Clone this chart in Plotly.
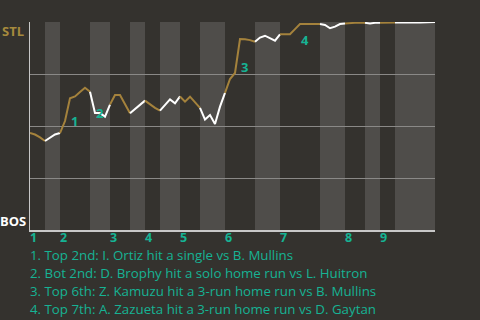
import plotly.graph_objects as go

# STL win probability (0..1) after each play, play index 0..81
stl_wp = [
    0.466, 0.459, 0.445, 0.428,            # top 1 (0-3)
    0.442, 0.459, 0.466,                   # bot 1 (4-6)
    0.524, 0.633, 0.642, 0.663, 0.684, 0.665,  # top 2 (7-12)
    0.562, 0.562, 0.545, 0.603,            # bot 2 (13-16)
    0.649, 0.649, 0.606, 0.561,            # top 3 (17-20)
    0.582, 0.601, 0.622,                   # bot 3 (21-23)
    0.603, 0.587, 0.574,                   # top 4 (24-26)
    0.601, 0.628, 0.609, 0.642,            # bot 4 (27-30)
    0.617, 0.641, 0.615, 0.587,            # top 5 (31-34)
    0.531, 0.553, 0.510, 0.593, 0.659,     # bot 5 (35-39)
    0.726, 0.755, 0.918, 0.917, 0.913, 0.905,  # top 6 (40-45)
    0.925, 0.934, 0.922, 0.910, 0.941,     # bot 6 (46-50)
    0.942, 0.941, 0.966, 0.990, 0.990, 0.990, 0.990, 0.990,  # top 7 (51-58)
    0.986, 0.970, 0.978, 0.990, 0.993,     # bot 7 (59-63)
    0.996, 0.996, 0.996, 0.996,            # top 8 (64-67)
    0.993, 0.996, 0.996,                   # bot 8 (68-70)
    0.997, 0.997, 0.997,                   # top 9 (71-73)
    0.998, 0.998, 0.998, 0.998, 0.998, 0.998, 0.998, 1.0,  # bot 9 (74-81)
]

# play index where each half-inning ends (start of next)
half_ends = [3, 6, 12, 16, 20, 23, 26, 30, 34, 39, 45, 50, 58, 63, 67, 70, 73, 81]
inning_labels = ["1", "2", "3", "4", "5", "6", "7", "8", "9"]

# key events: (play index before, play index after)
event_spans = [(7, 8), (12, 13), (41, 42), (52, 54)]
event_texts = [
    "1. Top 2nd: I. Ortiz hit a single vs B. Mullins",
    "2. Bot 2nd: D. Brophy hit a solo home run vs L. Huitron",
    "3. Top 6th: Z. Kamuzu hit a 3-run home run vs B. Mullins",
    "4. Top 7th: A. Zazueta hit a 3-run home run vs D. Gaytan",
]

BG = "#34322e"
BAND = "#4f4d4a"
GOLD = "#a4823c"
WHITE = "#ffffff"
TEAL = "#16b394"
FONT = "Open Sans"

fig = go.Figure()

# line segments colored by half-inning
starts = [0] + half_ends[:-1]
for k, (s, e) in enumerate(zip(starts, half_ends)):
    xs = list(range(s, e + 1))
    ys = stl_wp[s:e + 1]
    fig.add_trace(go.Scatter(
        x=xs, y=ys, mode="lines",
        line=dict(color=GOLD if k % 2 == 0 else WHITE, width=2),
        hoverinfo="skip", showlegend=False,
    ))

shapes = []
for k, (s, e) in enumerate(zip(starts, half_ends)):
    if k % 2 == 1:
        shapes.append(dict(type="rect", xref="x", yref="paper", x0=s, x1=e, y0=0, y1=1,
                           fillcolor=BAND, line_width=0, layer="below"))

annotations = []
# inning numbers at the start of each top half
for n, lab in enumerate(inning_labels):
    annotations.append(dict(x=starts[2 * n], y=0, xref="x", yref="paper", text="<b>%s</b>" % lab,
                            showarrow=False, xanchor="left", yanchor="middle", yshift=-7, xshift=-1,
                            borderpad=0,
                            font=dict(color=TEAL, size=12.5, family=FONT)))

# event markers on the chart
for n, (a, b) in enumerate(event_spans):
    ymid = (stl_wp[a] + stl_wp[b]) / 2
    annotations.append(dict(x=b, y=ymid, xref="x", yref="y", text="<b>%d</b>" % (n + 1),
                            showarrow=False, xanchor="left", yanchor="top", xshift=-1, yshift=0,
                            font=dict(color=TEAL, size=13, family=FONT)))

# event legend
for n, t in enumerate(event_texts):
    annotations.append(dict(x=0, y=0, xref="paper", yref="paper", text=t, showarrow=False,
                            xanchor="left", yanchor="middle", yshift=-25 - 18 * n, xshift=-1,
                            borderpad=0,
                            font=dict(color=TEAL, size=13.3, family=FONT)))

annotations.append(dict(x=0, y=1, xref="paper", yref="paper", text="<b>STL</b>", showarrow=False,
                        xanchor="right", yanchor="top", xshift=-4, yshift=2,
                        font=dict(color="#a68a3d", size=13, family=FONT)))
annotations.append(dict(x=0, y=0, xref="paper", yref="paper", text="<b>BOS</b>", showarrow=False,
                        xanchor="right", yanchor="bottom", xshift=-2, yshift=-2,
                        font=dict(color=WHITE, size=13, family=FONT)))

fig.update_layout(
    width=480, height=320,
    margin=dict(l=30, r=45, t=22, b=90),
    paper_bgcolor=BG, plot_bgcolor=BG,
    shapes=shapes, annotations=annotations,
    xaxis=dict(range=[0, 81], showgrid=False, zeroline=False, showticklabels=False,
               showline=True, linecolor="#c8c8c8", linewidth=2, ticks=""),
    yaxis=dict(range=[0, 1], tickvals=[0, 0.25, 0.5, 0.75, 1], showticklabels=False,
               showgrid=True, gridcolor="#8a8987", gridwidth=1, zeroline=False,
               showline=True, linecolor="#c8c8c8", linewidth=1, ticks=""),
    showlegend=False,
)

fig.write_html("out.html")
